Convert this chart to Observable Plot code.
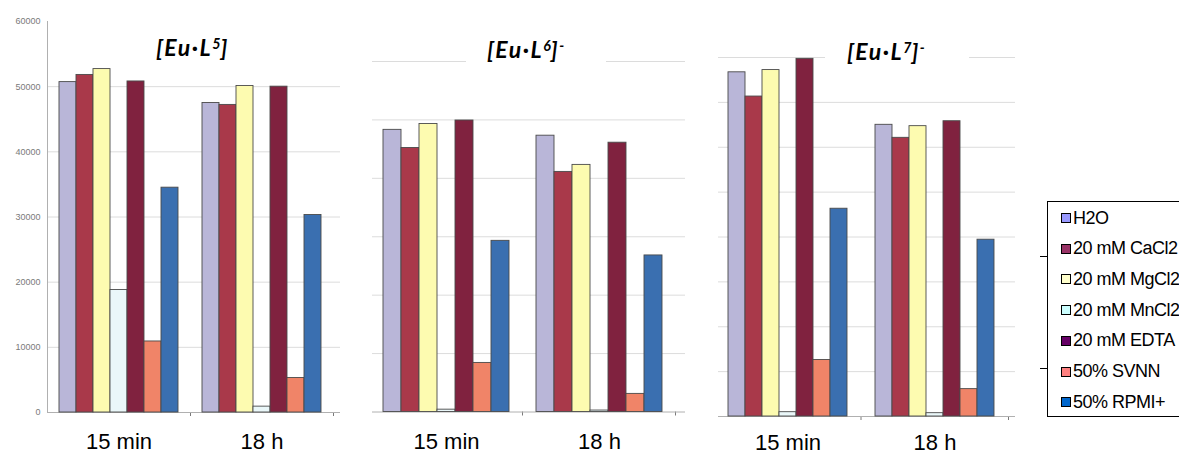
<!DOCTYPE html>
<html><head><meta charset="utf-8">
<script src="https://cdn.jsdelivr.net/npm/d3@7"></script>
<script src="https://cdn.jsdelivr.net/npm/@observablehq/plot@0.6"></script>
<style>
html,body{margin:0;padding:0;background:#fff;overflow:hidden;}
#root{position:relative;width:1179px;height:456px;overflow:hidden;font-family:"Liberation Sans",Arial,sans-serif;}
.layer{position:absolute;top:0;}
.layer svg{display:block;max-width:none;}
.title{position:absolute;font-family:Lato,"Open Sans",sans-serif;font-weight:700;font-style:italic;font-size:23px;line-height:23px;letter-spacing:1.5px;white-space:nowrap;color:#000;}
.title sup{font-size:0.62em;line-height:0;position:relative;top:-0.5em;vertical-align:baseline;letter-spacing:0;}
.title.boxed{background:#fff;}
#legend{position:absolute;left:1047px;top:201px;width:160px;height:216px;border:1px solid #000;background:#fff;box-sizing:border-box;}
.li{position:absolute;left:0;height:20px;display:flex;align-items:center;font-family:"Liberation Sans",Arial,sans-serif;font-size:18px;letter-spacing:-0.5px;white-space:nowrap;color:#000;}
.sw{width:8px;height:8px;border:1px solid #000;margin-left:13px;margin-right:2px;box-sizing:content-box;}
.stub{position:absolute;height:1px;background:#000;left:1040px;width:7px;}
</style>
</head><body>
<div id="root"></div>
<script>
// ---- data ----
const groups = ["15 min", "18 h"];
const series = ["H2O", "20 mM CaCl2", "20 mM MgCl2", "20 mM MnCl2", "20 mM EDTA", "50% SVNN", "50% RPMI+"];
// [Eu·L5]
const eu5_15min = [50700, 51800, 52700, 18800, 50800, 10900, 34500];
const eu5_18h   = [47500, 47200, 50100,   900, 50000,  5300, 30300];
// [Eu·L6]-
const eu6_15min = [48300, 45200, 49300,   400, 49900,  8400, 29300];
const eu6_18h   = [47300, 41100, 42300,   250, 46100,  3100, 26800];
// [Eu·L7]-
const eu7_15min = [76700, 71300, 77200,   960, 79700, 12600, 46300];
const eu7_18h   = [65000, 62100, 64700,   740, 65800,  6100, 39400];
const yTicks = [0, 10000, 20000, 30000, 40000, 50000, 60000];
const gridTicks6 = [10000, 20000, 30000, 40000, 50000, 60000];
const gridTicks8 = [10000, 20000, 30000, 40000, 50000, 60000, 70000, 80000];
const barColors = ["#b9b6d8", "#a9394a", "#fdfbb0", "#eaf7f9", "#80223f", "#f08468", "#3a6fb0"];
const legendColors = ["#9999ff", "#993366", "#ffffcc", "#ccffff", "#660066", "#ff8080", "#0066cc"];

function table(a, b) {
  const rows = [];
  [a, b].forEach((vals, gi) => vals.forEach((v, si) => rows.push({group: groups[gi], series: series[si], value: v})));
  return rows;
}

const panels = [
  {data: table(eu5_15min, eu5_18h), ymax: 60000, grid: gridTicks6.slice(0, 5), left: 0, width: 345, mt: 21, mb: 44,
   ml: 47, mr: 12, uml: 47, umr: 5, yaxis: true, lpad: 21,
   title: '[Eu·L<sup>5</sup>]', tleft: 156, ttop: 36, boxed: false},
  {data: table(eu6_15min, eu6_18h), ymax: 60000, grid: gridTicks6, left: 360, width: 330, mt: 61, mb: 44.5,
   ml: 9, mr: 15, uml: 12, umr: 5, yaxis: false, lpad: 21,
   title: '[Eu·L<sup>6</sup>]<sup>-</sup>', tleft: 466, ttop: 38, boxed: true, tpad: 21},
  {data: table(eu7_15min, eu7_18h), ymax: 80000, grid: gridTicks8, left: 700, width: 320, mt: 57, mb: 40,
   ml: 13, mr: 12, uml: 18, umr: 5, yaxis: false, lpad: 18,
   title: '[Eu·L<sup>7</sup>]<sup>-</sup>', tleft: 825, ttop: 40, boxed: true, tpad: 22}
];

const root = document.getElementById("root");
const H = 456;

panels.forEach(p => {
  // underlay: grid, axes
  const under = Plot.plot({
    width: p.width, height: H,
    marginLeft: p.uml, marginRight: p.umr, marginTop: p.mt, marginBottom: p.mb,
    x: {domain: [0, 2], range: [p.ml, p.width - p.mr], ticks: [1, 2], tickSize: 4, tickFormat: () => "", label: null},
    y: p.yaxis
      ? {domain: [0, p.ymax], ticks: yTicks, tickSize: 0, tickPadding: 7, tickFormat: d => String(d), label: null}
      : {domain: [0, p.ymax], axis: null},
    style: {fontFamily: "'Liberation Sans', Arial, sans-serif", fontSize: "9px", color: "#7a7a7a", background: "transparent"},
    marks: [
      Plot.ruleY(p.grid, {stroke: "#dcdcdc", strokeWidth: 1}),
      Plot.ruleY([0], {stroke: "#b0b0b0", strokeWidth: 1}),
      ...(p.yaxis ? [Plot.ruleX([0], {stroke: "#b0b0b0", strokeWidth: 1})] : [])
    ]
  });
  const d1 = document.createElement("div");
  d1.className = "layer"; d1.style.left = p.left + "px";
  d1.appendChild(under); root.appendChild(d1);

  // bars
  const bars = Plot.plot({
    width: p.width, height: H,
    marginLeft: p.ml, marginRight: p.mr, marginTop: p.mt, marginBottom: p.mb,
    facet: {data: p.data, x: "group"},
    fx: {domain: groups, paddingInner: 0.165, paddingOuter: 0.08, label: null, axis: "bottom", tickSize: 0, tickPadding: p.lpad},
    x: {domain: series, padding: 0, axis: null},
    y: {domain: [0, p.ymax], axis: null},
    color: {domain: series, range: barColors},
    style: {fontFamily: "'Liberation Sans', Arial, sans-serif", fontSize: "22px", color: "#000", background: "transparent"},
    marks: [
      Plot.barY(p.data, {x: "series", y: "value", fill: "series", stroke: "#4a4a4a", strokeWidth: 0.9})
    ]
  });
  const d2 = document.createElement("div");
  d2.className = "layer"; d2.style.left = p.left + "px";
  d2.appendChild(bars); root.appendChild(d2);

  // title
  const t = document.createElement("div");
  t.className = "title" + (p.boxed ? " boxed" : "");
  t.innerHTML = p.title;
  t.style.left = p.tleft + "px"; t.style.top = p.ttop + "px";
  if (p.boxed) { t.style.paddingLeft = p.tpad + "px"; t.style.paddingRight = (p.tpad * 2) + "px"; t.style.paddingTop = "4px"; t.style.paddingBottom = "8px"; t.style.top = (p.ttop - 4) + "px"; }
  root.appendChild(t);
});

// stubs left of legend
[256, 368].forEach(y => { const s = document.createElement("div"); s.className = "stub"; s.style.top = y + "px"; root.appendChild(s); });

// legend
const lg = document.createElement("div");
lg.id = "legend";
series.forEach((s, i) => {
  const it = document.createElement("div");
  it.className = "li";
  it.style.top = (6 + i * 30.7) + "px";
  const sw = document.createElement("span");
  sw.className = "sw"; sw.style.background = legendColors[i];
  const tx = document.createElement("span");
  tx.textContent = s;
  it.appendChild(sw); it.appendChild(tx);
  lg.appendChild(it);
});
root.appendChild(lg);
</script>
</body></html>
